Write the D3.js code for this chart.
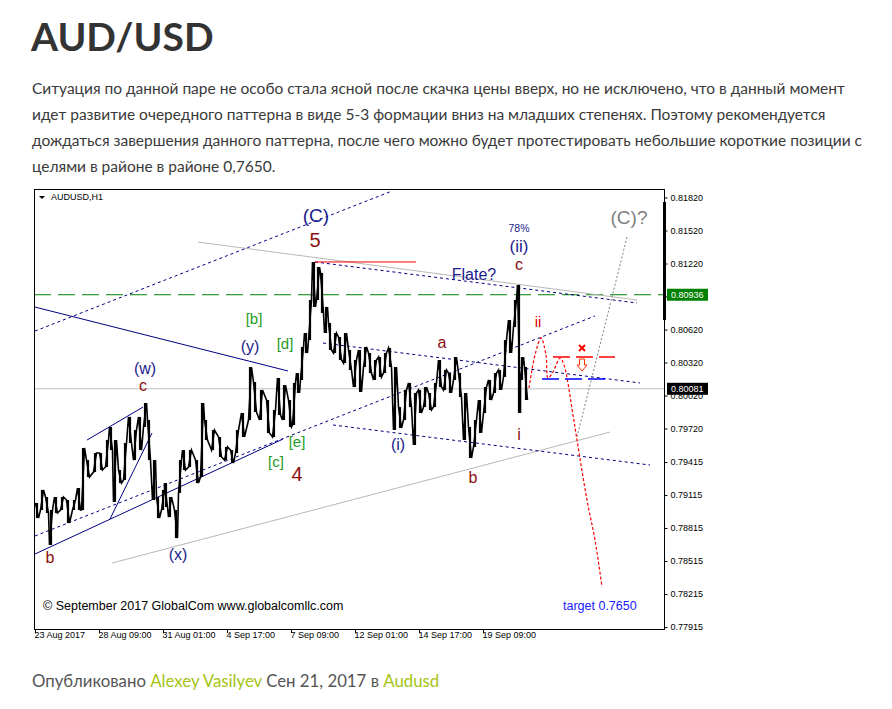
<!DOCTYPE html>
<html><head><meta charset="utf-8">
<script src="https://cdn.jsdelivr.net/npm/d3@7/dist/d3.min.js"></script>
<style>body{margin:0;background:#fff;overflow:hidden}svg{display:block}</style>
</head><body>
<svg id="page" width="892" height="709"></svg>
<script>
// ---------- DATA ----------
const pageTitle = "AUD/USD";
const paragraphLines = [
  "Ситуация по данной паре не особо стала ясной после скачка цены вверх, но не исключено, что в данный момент",
  "идет развитие очередного паттерна в виде 5-3 формации вниз на младших степенях. Поэтому рекомендуется",
  "дождаться завершения данного паттерна, после чего можно будет протестировать небольшие короткие позиции с",
  "целями в районе в районе 0,7650."
];
const chartTitle = "AUDUSD,H1";
const priceTicks = [0.81820,0.81520,0.81220,0.80920,0.80620,0.80320,0.80020,0.79720,0.79415,0.79115,0.78815,0.78515,0.78215,0.77915];
const hiddenTickLabels = [0.80920];
const timeTickBars = [0,64,128,192,256,320,384,448];
const timeLabels = ["23 Aug 2017","28 Aug 09:00","31 Aug 01:00","4 Sep 17:00","7 Sep 09:00","12 Sep 01:00","14 Sep 17:00","19 Sep 09:00"];
const lastPrice = 0.80081;
const levelPrice = 0.80936;
const scaleBar = [0.81779, 0.80706];

// H1 price samples (bar index, high, low)
const barIndex = [2,7,12,16,21,27,33,39,44,48,53,60,66,72,76,80,85,90,95,100,105,110,114,119,123,128,131,135,141,145,149,155,162,167,171,178,185,191,197,202,208,215,220,226,233,239,244,249,255,259,263,267,271,275,279,283,287,291,295,300,305,310,315,320,325,330,335,340,345,350,355,360,365,370,375,380,385,390,395,400,405,410,415,420,425,430,435,440,445,450,455,460,465,470,475,480,484,487,491];
const barHigh = [0.79043,0.79161,0.79097,0.78979,0.79097,0.79097,0.79070,0.79070,0.79179,0.79543,0.79433,0.79497,0.79497,0.79615,0.79734,0.79615,0.79343,0.79588,0.79825,0.79706,0.79825,0.79952,0.79797,0.79433,0.79097,0.79161,0.79224,0.79097,0.78979,0.79433,0.79524,0.79524,0.79433,0.79952,0.79797,0.79706,0.79643,0.79552,0.79524,0.79706,0.79861,0.80279,0.80143,0.80070,0.79979,0.79888,0.80179,0.80115,0.79979,0.80134,0.80224,0.80461,0.80588,0.80888,0.81234,0.81188,0.81134,0.80825,0.80679,0.80588,0.80552,0.80588,0.80434,0.80343,0.80434,0.80461,0.80406,0.80343,0.80370,0.80406,0.80452,0.80279,0.79915,0.80070,0.80134,0.80043,0.80070,0.80097,0.80043,0.80134,0.80343,0.80252,0.80224,0.80370,0.80224,0.80043,0.79734,0.79797,0.79979,0.80097,0.80161,0.80224,0.80252,0.80524,0.80706,0.80888,0.81025,0.80370,0.80279];
const barLow = [0.78906,0.78979,0.78952,0.78661,0.78952,0.78979,0.78861,0.78979,0.78979,0.78979,0.79279,0.79324,0.79343,0.79370,0.79524,0.79052,0.79224,0.79252,0.79588,0.79433,0.79524,0.79734,0.79433,0.79070,0.78906,0.78979,0.79006,0.78915,0.78724,0.79134,0.79343,0.79370,0.79224,0.79279,0.79615,0.79524,0.79461,0.79433,0.79406,0.79497,0.79643,0.79797,0.79870,0.79797,0.79679,0.79643,0.79843,0.79797,0.79734,0.79752,0.80043,0.80161,0.80406,0.80524,0.80825,0.80888,0.80770,0.80588,0.80434,0.80406,0.80343,0.80315,0.80252,0.80097,0.80052,0.80279,0.80224,0.80161,0.80188,0.80224,0.80279,0.79706,0.79725,0.79797,0.79915,0.79570,0.79861,0.79915,0.79888,0.79915,0.80097,0.80070,0.80043,0.80161,0.80006,0.79615,0.79452,0.79552,0.79679,0.79861,0.79979,0.80043,0.80070,0.80188,0.80406,0.80643,0.79861,0.80161,0.79979];

// analysis objects: [bar, price]
const upperDottedLine = [[0,0.80606],[357,0.81879]];
const navySolidLine = [[0,0.80824],[253,0.80243]];
const grayUpperLine = [[163,0.81415],[602,0.80888]];
const redTopLine = [[280,0.81234],[381,0.81234]];
const dottedFrom5 = [[280,0.81234],[602,0.80861]];
const dottedMid = [[288,0.80497],[605,0.80134]];
const dottedLow = [[298,0.79752],[615,0.79388]];
const dottedRising = [[0,0.78743],[560,0.80743]];
const solidRising = [[0,0.78579],[248,0.79624]];
const steepLine = [[75,0.78897],[117,0.79679]];
const wChannelLine = [[52,0.79615],[108,0.79915]];
const grayLowerLine = [[77,0.78497],[575,0.79688]];
const redProjection = [[494,0.80088],[500,0.80388],[506,0.80543],[511,0.80388],[513,0.80179],[518,0.80234],[525,0.80361],[529,0.80297],[538,0.79843],[542,0.79615],[552,0.79070],[560,0.78706],[567,0.78279]];
const grayProjection = [[542,0.79643],[592,0.81461]];
const redLevel = [[518,0.80370],[580,0.80370]];
const blueLevel = [[507,0.80170],[574,0.80170]];
const crossMark = [547,0.80452];
const arrowMark = [547,0.80297];

// wave labels: [text, bar, price]
const navyLabels = [["(C)",281,0.81597],["(y)",215,0.80415],["(w)",110,0.80215],["(x)",143,0.78525],["(i)",363,0.79524],["(ii)",484,0.81325],["Flate?",439,0.81070],["78%",484,0.81506]];
const maroonLabels = [["5",280,0.81370],["4",262,0.79243],["c",108,0.80061],["b",15,0.78497],["b",438,0.79224],["a",407,0.80452],["c",484,0.81161],["i",484,0.79615]];
const greenLabels = [["[b]",219,0.80670],["[d]",250,0.80443],["[e]",262,0.79552],["[c]",241,0.79370]];
const redLabels = [["ii",503,0.80643]];
const grayLabels = [["(C)?",594,0.81579]];
const copyrightText = ["© September 2017 GlobalCom www.globalcomllc.com", 8, 0.78070];
const targetText = ["target 0.7650", 528, 0.78070];

const footerParts = [["Опубликовано ","t"],["Alexey Vasilyev","l"],[" Сен 21, 2017 в ","t"],["Audusd","l"]];

// ---------- DRAW ----------
const svg = d3.select("#page");
svg.append("rect").attr("width",892).attr("height",709).attr("fill","#fff");

svg.append("text").attr("x",31).attr("y",51)
  .attr("font-family","Lato, 'Open Sans', sans-serif").attr("font-weight",700)
  .attr("font-size",39).attr("fill","#333").text(pageTitle);

svg.append("g").selectAll("text").data(paragraphLines).join("text")
  .attr("x",32).attr("y",(d,i)=>94+i*26)
  .attr("font-family","Lato, sans-serif").attr("font-size",15.5).attr("fill","#3a3a3a")
  .text(d=>d);

const L = 34, R = 665, T = 189, B = 629;
const x = d3.scaleLinear().domain([-1,630]).range([L,R]);
const y = d3.scaleLinear().domain([0.778973,0.818973]).range([B,T]);

const chart = svg.append("g");
chart.append("defs").append("clipPath").attr("id","clip")
  .append("rect").attr("x",L).attr("y",T).attr("width",R-L).attr("height",B-T);
const plot = chart.append("g").attr("clip-path","url(#clip)");

const line = d3.line().x(d=>x(d[0])).y(d=>y(d[1]));
const NAVY = "#000080";

function drawLine(pts, color, width, dash, curve){
  const l = curve ? d3.line().x(d=>x(d[0])).y(d=>y(d[1])).curve(curve) : line;
  plot.append("path").attr("d",l(pts)).attr("fill","none")
    .attr("stroke",color).attr("stroke-width",width)
    .attr("stroke-dasharray",dash||null);
}

// horizontal levels
plot.append("line").attr("x1",L).attr("x2",R).attr("y1",y(lastPrice)).attr("y2",y(lastPrice))
  .attr("stroke","#c0c0c0").attr("stroke-width",1);
plot.append("line").attr("x1",L).attr("x2",R).attr("y1",y(levelPrice)).attr("y2",y(levelPrice))
  .attr("stroke","#008000").attr("stroke-width",1).attr("stroke-dasharray","17,7");

// trend lines
drawLine(grayUpperLine,"#b8b8b8",1);
drawLine(grayLowerLine,"#b8b8b8",1);
drawLine(upperDottedLine,NAVY,1,"3,3");
drawLine(navySolidLine,NAVY,1);
drawLine(dottedFrom5,NAVY,1,"3,3");
drawLine(dottedMid,NAVY,1,"3,3");
drawLine(dottedLow,NAVY,1,"3,3");
drawLine(dottedRising,NAVY,1,"3,3");
drawLine(solidRising,NAVY,1);
drawLine(steepLine,NAVY,1);
drawLine(wChannelLine,NAVY,1);
drawLine(redTopLine,"#ff0000",1);
drawLine(grayProjection,"#808080",1,"2,2");
drawLine(redProjection,"#ff0000",1.2,"3,2",d3.curveCatmullRom);
drawLine(redLevel,"#ff0000",1.3,"17,6");
drawLine(blueLevel,"#0000ff",1.3,"17,6");

// price bars: vertical high-low strokes plus connecting zigzag
const pts = [];
barIndex.forEach((b,k)=>{
  const hx = x(b), yh = y(barHigh[k]), yl = y(barLow[k]);
  if(k%2===0){ pts.push([hx-1.5,yh],[hx+1.5,yl]); }
  else { pts.push([hx-1.5,yl],[hx+1.5,yh]); }
});
plot.append("path").attr("d",d3.line()(pts)).attr("fill","none")
  .attr("stroke","#000").attr("stroke-width",1.6).attr("stroke-linejoin","miter");
plot.append("g").selectAll("line").data(barIndex).join("line")
  .attr("x1",d=>x(d)).attr("x2",d=>x(d))
  .attr("y1",(d,k)=>y(barHigh[k])).attr("y2",(d,k)=>y(barLow[k]))
  .attr("stroke","#000").attr("stroke-width",2.2);

// markers
{
  const cx = x(crossMark[0]), cy = y(crossMark[1]);
  plot.append("path").attr("d",`M${cx-3},${cy-3}L${cx+3},${cy+3}M${cx+3},${cy-3}L${cx-3},${cy+3}`)
    .attr("stroke","#ff0000").attr("stroke-width",2);
  const ax = x(arrowMark[0]), ay = y(arrowMark[1]);
  plot.append("path").attr("d",`M${ax-2.5},${ay-6}H${ax+2.5}V${ay}H${ax+5}L${ax},${ay+6}L${ax-5},${ay}H${ax-2.5}Z`)
    .attr("fill","#fff").attr("stroke","#ff3000").attr("stroke-width",1);
}

// labels
const F = "'Liberation Sans', Arial, sans-serif";
function labels(arr, color, sizeFn){
  plot.append("g").selectAll("text").data(arr).join("text")
    .attr("x",d=>x(d[1])).attr("y",d=>y(d[2]))
    .attr("text-anchor","middle").attr("font-family",F)
    .attr("font-size",d=>sizeFn(d[0])).attr("fill",color).text(d=>d[0]);
}
labels(navyLabels,"#1c1c8c",t=>({"(C)":19,"(ii)":17,"Flate?":16,"78%":10.5}[t]||16));
labels(maroonLabels,"#8b1010",t=>({"5":20,"4":20}[t]||16));
labels(greenLabels,"#1f9a1f",()=>15);
labels(redLabels,"#e00000",()=>15);
labels(grayLabels,"#808080",()=>19);

plot.append("text").attr("x",x(copyrightText[1])).attr("y",y(copyrightText[2]))
  .attr("font-family",F).attr("font-size",12.5).attr("fill","#000").text(copyrightText[0]);
plot.append("text").attr("x",x(targetText[1])).attr("y",y(targetText[2]))
  .attr("font-family",F).attr("font-size",12.5).attr("fill","#2020ff").text(targetText[0]);

// chart title
plot.append("path").attr("d",`M${L+5},${T+7}h6l-3,3z`).attr("fill","#000");
plot.append("text").attr("x",L+17).attr("y",T+11).attr("font-family",F)
  .attr("font-size",9).attr("fill","#000").text(chartTitle);

// frame
chart.append("rect").attr("x",L+0.5).attr("y",T+0.5).attr("width",R-L-1).attr("height",B-T)
  .attr("fill","none").attr("stroke","#000").attr("stroke-width",1);

// axes
const fmt = d3.format(".5f");
const yAxis = d3.axisRight(y).tickValues(priceTicks).tickSize(3)
  .tickFormat(d=>hiddenTickLabels.includes(d)?"":fmt(d));
const gy = chart.append("g").attr("transform",`translate(${R-0.5},0)`).call(yAxis);
gy.select(".domain").remove();
gy.selectAll("text").attr("font-family",F).attr("font-size",9).attr("fill","#000").attr("x",6);
gy.selectAll("line").attr("stroke","#000");

const xAxis = d3.axisBottom(x).tickValues(timeTickBars).tickSize(4).tickFormat((d,i)=>timeLabels[i]);
const gx = chart.append("g").attr("transform",`translate(0,${B})`).call(xAxis);
gx.select(".domain").remove();
gx.selectAll("text").attr("font-family",F).attr("font-size",9).attr("fill","#000")
  .attr("text-anchor","start").attr("x",-1).attr("y",3);
gx.selectAll("line").attr("stroke","#000");

// scale bar on price axis
chart.append("line").attr("x1",R-0.5).attr("x2",R-0.5).attr("y1",y(scaleBar[0])).attr("y2",y(scaleBar[1]))
  .attr("stroke","#000").attr("stroke-width",3);

// price labels
function priceTag(v, bg){
  const g = chart.append("g");
  g.append("rect").attr("x",R+2).attr("y",y(v)-6).attr("width",41).attr("height",12).attr("fill",bg);
  g.append("text").attr("x",R+6).attr("y",y(v)).attr("dy","0.32em").attr("font-family",F)
    .attr("font-size",9).attr("fill","#fff").text(fmt(v));
}
priceTag(levelPrice,"#008000");
priceTag(lastPrice,"#000");

// footer
const ft = svg.append("text").attr("x",32).attr("y",687).attr("font-family","Lato, sans-serif").attr("font-size",16.8);
ft.selectAll("tspan").data(footerParts).join("tspan")
  .attr("fill",d=>d[1]==="l"?"#a4c414":"#555").text(d=>d[0]);
</script>
</body></html>
